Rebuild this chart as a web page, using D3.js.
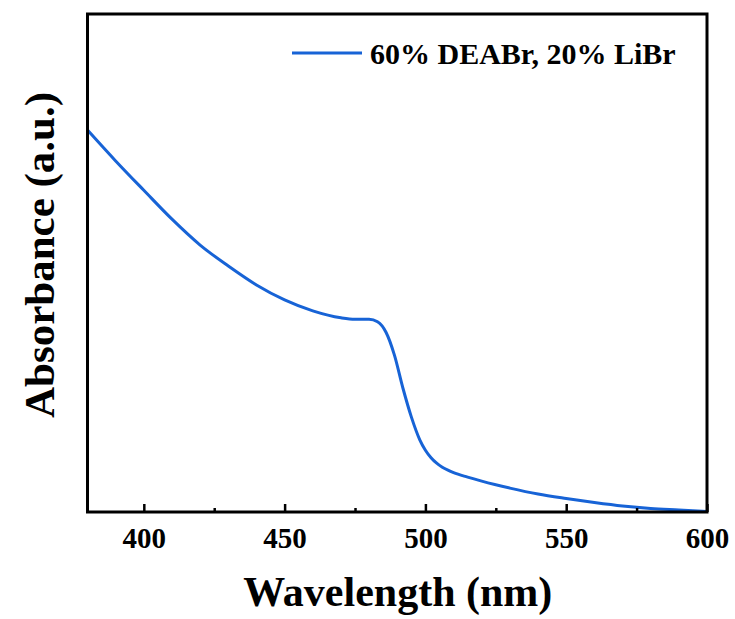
<!DOCTYPE html>
<html>
<head>
<meta charset="utf-8">
<script src="https://cdn.jsdelivr.net/npm/d3@7"></script>
<style>
html,body{margin:0;padding:0;background:#fff;}
svg{display:block;}
svg text{font-family:"Liberation Serif","Times New Roman",serif !important;}
</style>
</head>
<body>
<svg id="chart" width="735" height="619"></svg>
<script>
const wavelength = [380,390,400,410,420,430,440,450,460,470,475,480,483,486,489,492,495,498,500,502,504,506,508,510,515,520,530,540,550,560,570,580,590,600];
const absorbance = [0.767,0.705,0.646,0.588,0.536,0.494,0.456,0.426,0.404,0.390,0.387,0.387,0.382,0.361,0.315,0.249,0.191,0.145,0.124,0.109,0.098,0.090,0.084,0.079,0.070,0.062,0.048,0.036,0.027,0.019,0.012,0.007,0.004,0.001];
const xTicks = [400,450,500,550,600];
const xMinorTicks = [425,475,525,575];
const seriesName = "60% DEABr, 20% LiBr";
const xTitle = "Wavelength (nm)";
const yTitle = "Absorbance (a.u.)";

const svg = d3.select("#chart");
const L = 87.5, R = 707, T = 14, B = 512;
const x = d3.scaleLinear().domain([380,600]).range([L,R]);
const y = d3.scaleLinear().domain([0,1]).range([B,T]);
const color = "#1763d6";

// curve
const line = d3.line().x((d,i)=>x(wavelength[i])).y(d=>y(d)).curve(d3.curveMonotoneX);
svg.append("path").datum(absorbance).attr("d",line)
  .attr("fill","none").attr("stroke",color).attr("stroke-width",3).attr("stroke-linejoin","round");

// x axis
const xAxis = d3.axisBottom(x).tickValues(xTicks).tickSize(-8).tickFormat(d3.format("d"));
const gx = svg.append("g").attr("transform",`translate(0,${B})`).call(xAxis);
gx.attr("font-family",null);
gx.select(".domain").remove();
gx.selectAll(".tick line").attr("stroke","#000").attr("stroke-width",2.5);
gx.selectAll(".tick text").attr("font-size",29).attr("font-weight","bold").attr("fill","#000")
  .attr("dy",null).attr("y",36);
const xAxisMinor = d3.axisBottom(x).tickValues(xMinorTicks).tickSize(-4).tickFormat("");
const gxm = svg.append("g").attr("transform",`translate(0,${B})`).call(xAxisMinor);
gxm.select(".domain").remove();
gxm.selectAll(".tick line").attr("stroke","#000").attr("stroke-width",2.5);

// frame
svg.append("rect").attr("x",L).attr("y",T).attr("width",R-L).attr("height",B-T)
  .attr("fill","none").attr("stroke","#000").attr("stroke-width",3);

// legend
svg.append("line").attr("x1",292).attr("x2",362).attr("y1",53).attr("y2",53)
  .attr("stroke",color).attr("stroke-width",3);
svg.append("text").attr("x",370).attr("y",64).attr("font-size",30).attr("font-weight","bold")
  .text(seriesName);

// titles
svg.append("text").attr("x",(L+R)/2+0.5).attr("y",606).attr("text-anchor","middle")
  .attr("font-size",42).attr("font-weight","bold").text(xTitle);
svg.append("text").attr("transform",`translate(54,${(93+417)/2}) rotate(-90)`).attr("text-anchor","middle")
  .attr("font-size",43).attr("font-weight","bold").text(yTitle);
</script>
</body>
</html>
